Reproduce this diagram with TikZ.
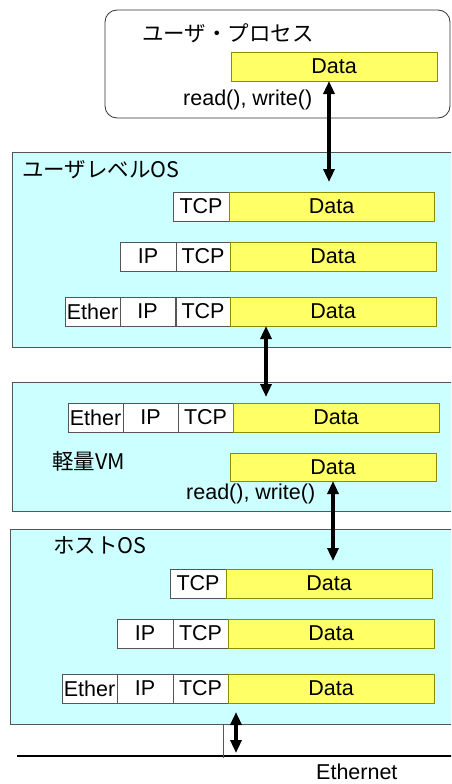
\documentclass[tikz,border=0pt]{standalone}
\usepackage{fontspec}
\setmainfont{Liberation Sans}
\newfontfamily\jp{Noto Sans CJK JP}
\usetikzlibrary{arrows.meta}
\definecolor{boxcyan}{HTML}{CCFFFF}
\definecolor{datay}{HTML}{FFFF66}
\definecolor{dataedge}{HTML}{8C8C00}
\definecolor{edgegray}{HTML}{555555}
\tikzset{
  container/.style={draw=edgegray, fill=boxcyan, line width=0.8pt},
  procbox/.style={draw=black!80, fill=white, line width=0.8pt, rounded corners=12pt},
  cell/.style={draw=edgegray, fill=white, line width=0.8pt, inner sep=0pt, outer sep=0pt,
    minimum height=29pt, anchor=north west, font=\fontsize{21.5}{25}\selectfont},
  datacell/.style={cell, draw=dataedge, fill=datay},
  lbl/.style={inner sep=0pt, anchor=west, font=\fontsize{21.5}{25}\selectfont},
  jlbl/.style={inner sep=0pt, anchor=west, font=\jp\fontsize{21.5}{25}\selectfont},
  dbl/.style={line width=3.5pt, {Triangle[length=13pt,width=11pt]}-{Triangle[length=13pt,width=11pt]}},
}
\begin{document}
\begin{tikzpicture}[x=1pt,y=-1pt]
\useasboundingbox (0,0) rectangle (451,784);
\clip (0,0) rectangle (451,784);

% user process
\draw[procbox] (105,10) rectangle (450,118);
\node[jlbl] (tp) at (142,33) {ユーザ・プロセス};
\node[datacell, minimum width=206pt] (ud) at (231,52) {Data};
\node[lbl] (urw) at (183,100) {read(), write()};

% user level OS
\node[container, minimum width=448pt, minimum height=195pt, anchor=north west, inner sep=0pt] (uos) at (12,152) {};
\node[jlbl] (uosl) at (22,170) {ユーザレベルOS};
\node[cell, minimum width=56pt] (u1t) at (173,192) {TCP};
\node[datacell, minimum width=205pt] (u1d) at (229,192) {Data};
\node[cell, minimum width=56pt] (u2i) at (120,242) {\raisebox{-2pt}{IP}};
\node[cell, minimum width=54pt] (u2t) at (176,242) {TCP};
\node[datacell, minimum width=206pt] (u2d) at (230,242) {Data};
\node[cell, minimum width=55pt] (u3e) at (65,297) {Ether};
\node[cell, minimum width=55pt] (u3i) at (120,297) {\raisebox{-2pt}{IP}};
\node[cell, minimum width=54pt] (u3t) at (176,297) {TCP};
\node[datacell, minimum width=206pt] (u3d) at (230,297) {Data};

% light VM
\node[container, minimum width=448pt, minimum height=129pt, anchor=north west, inner sep=0pt] (vm) at (12,382) {};
\node[cell, minimum width=55pt] (ve) at (68,403) {Ether};
\node[cell, minimum width=55pt] (vi) at (123,403) {\raisebox{-2pt}{IP}};
\node[cell, minimum width=55pt] (vt) at (178,403) {TCP};
\node[datacell, minimum width=206pt] (vd1) at (233,403) {Data};
\node[jlbl] (vml) at (52,461) {軽量VM};
\node[datacell, minimum width=206pt, minimum height=28pt] (vd) at (230,453) {Data};
\node[lbl] (vrw) at (186,494) {read(), write()};

% host OS
\node[container, minimum width=450pt, minimum height=195pt, anchor=north west, inner sep=0pt] (hos) at (10,529) {};
\node[jlbl] (hosl) at (53,545) {ホストOS};
\node[cell, minimum width=56pt] (h1t) at (170,569) {TCP};
\node[datacell, minimum width=206pt] (h1d) at (226,569) {Data};
\node[cell, minimum width=56pt] (h2i) at (117,619) {\raisebox{-2pt}{IP}};
\node[cell, minimum width=55pt] (h2t) at (173,619) {TCP};
\node[datacell, minimum width=206pt] (h2d) at (228,619) {Data};
\node[cell, minimum width=55pt] (h3e) at (62,674) {Ether};
\node[cell, minimum width=56pt] (h3i) at (117,674) {\raisebox{-2pt}{IP}};
\node[cell, minimum width=55pt] (h3t) at (173,674) {TCP};
\node[datacell, minimum width=206pt] (h3d) at (228,674) {Data};

% ethernet
\coordinate (el) at (17,756);
\coordinate (er) at (455,756);
\draw[line width=2.2pt] (el) -- (er);
\coordinate (tap) at (223,758);
\draw[line width=0.6pt, edgegray] (hos.south -| tap) -- (tap);
\node[lbl] (eth) at (316,772) {Ethernet};

% arrows
\coordinate (a1) at (329,182);
\draw[dbl] (ud.south -| a1) -- (a1);
\coordinate (a2) at (266,397);
\draw[dbl] (u3d.south -| a2) -- (a2);
\coordinate (a3) at (333,561);
\draw[dbl] (vd.south -| a3) -- (a3);
\coordinate (a4t) at (236,712);
\coordinate (a4b) at (236,753);
\draw[dbl] (a4t) -- (a4b);
\end{tikzpicture}
\end{document}
